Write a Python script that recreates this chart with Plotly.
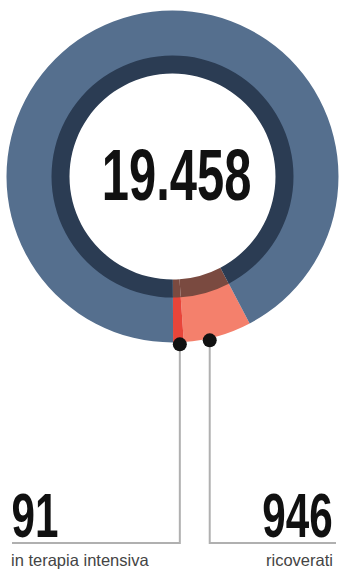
import plotly.graph_objects as go
import math

W, H = 342, 569

# Data
total_label = "19.458"
labels = ["ricoverati", "in terapia intensiva", "altri"]
numbers = ["946", "91"]
# slice widths as drawn in the graphic, in degrees of the circle
slice_deg = [23.8, 3.7, 332.5]
start_deg = 152.3  # clockwise from 12 o'clock

outer_colors = ["#f4806c", "#e8453a", "#556f8e"]
inner_colors = ["#7a4a40", "#7a4a40", "#2b3c53"]

cx, cy = 172.5, 176.5
R_out, R_mid, R_in = 166, 121, 103

def dom(r):
    return dict(x=[(cx - r) / W, (cx + r) / W],
                y=[(H - cy - r) / H, (H - cy + r) / H])

fig = go.Figure()
fig.add_trace(go.Pie(values=slice_deg, labels=labels, domain=dom(R_out),
                     hole=(R_mid - 1) / R_out, sort=False, direction="clockwise",
                     rotation=start_deg, textinfo="none", hoverinfo="skip",
                     marker=dict(colors=outer_colors, line=dict(width=0)),
                     showlegend=False))
fig.add_trace(go.Pie(values=slice_deg, labels=labels, domain=dom(R_mid),
                     hole=R_in / R_mid, sort=False, direction="clockwise",
                     rotation=start_deg, textinfo="none", hoverinfo="skip",
                     marker=dict(colors=inner_colors, line=dict(width=0)),
                     showlegend=False))

# leader dots at the slices
dot_angles = [177.5, 167.2]  # ICU, ricoverati
dot_r = 168
dx = [cx + dot_r * math.sin(math.radians(a)) for a in dot_angles]
dy = [cy - dot_r * math.cos(math.radians(a)) for a in dot_angles]
line_y = 543
fig.add_trace(go.Scatter(x=[dx[0], dx[0], 12], y=[dy[0], line_y, line_y], mode="lines",
                         line=dict(color="#b0b0b0", width=2), hoverinfo="skip", showlegend=False))
fig.add_trace(go.Scatter(x=[dx[1], dx[1], 336], y=[dy[1], line_y, line_y], mode="lines",
                         line=dict(color="#b0b0b0", width=2), hoverinfo="skip", showlegend=False))
for x0, y0 in zip(dx, dy):
    fig.add_shape(type="circle", xref="x", yref="y", x0=x0 - 7, x1=x0 + 7,
                  y0=y0 - 7, y1=y0 + 7, fillcolor="#111111",
                  line=dict(width=0), layer="above")

big = "Liberation Sans, Arial, sans-serif"
fig.add_annotation(x=176.5, y=174, text="<b>" + total_label + "</b>", showarrow=False,
                   xanchor="center", yanchor="middle",
                   font=dict(family=big, size=73, color="#111111"))
fig.add_annotation(x=35, y=514.5, text="<b>" + numbers[1] + "</b>", showarrow=False,
                   xanchor="center", yanchor="middle",
                   font=dict(family=big, size=63, color="#111111"))
fig.add_annotation(x=297, y=514.5, text="<b>" + numbers[0] + "</b>", showarrow=False,
                   xanchor="center", yanchor="middle",
                   font=dict(family=big, size=63, color="#111111"))
fig.add_annotation(x=9, y=559.5, text=labels[1], showarrow=False,
                   xanchor="left", yanchor="middle",
                   font=dict(family=big, size=16.5, color="#444444"))
fig.add_annotation(x=335, y=559.5, text=labels[0], showarrow=False,
                   xanchor="right", yanchor="middle",
                   font=dict(family=big, size=16.5, color="#444444"))

fig.update_layout(width=W, height=H, margin=dict(l=0, r=0, t=0, b=0),
                  paper_bgcolor="white", plot_bgcolor="rgba(0,0,0,0)",
                  xaxis=dict(range=[0, W], visible=False, fixedrange=True),
                  yaxis=dict(range=[H, 0], visible=False, fixedrange=True))

# condense the large figures horizontally (the original uses a condensed typeface)
post = """
var gd = document.getElementById('{plot_id}');
function squeeze(){
  gd.querySelectorAll('text.annotation-text').forEach(function(t){
    var fs = parseFloat(t.style.fontSize);
    if (fs > 30) {
      t.style.transformBox = 'fill-box';
      t.style.transformOrigin = 'center';
      t.style.transform = 'scaleX(0.67)';
    }
  });
}
squeeze();
gd.on && gd.on('plotly_afterplot', squeeze);
"""
fig.write_html("out.html", config={"displayModeBar": False}, post_script=post)
